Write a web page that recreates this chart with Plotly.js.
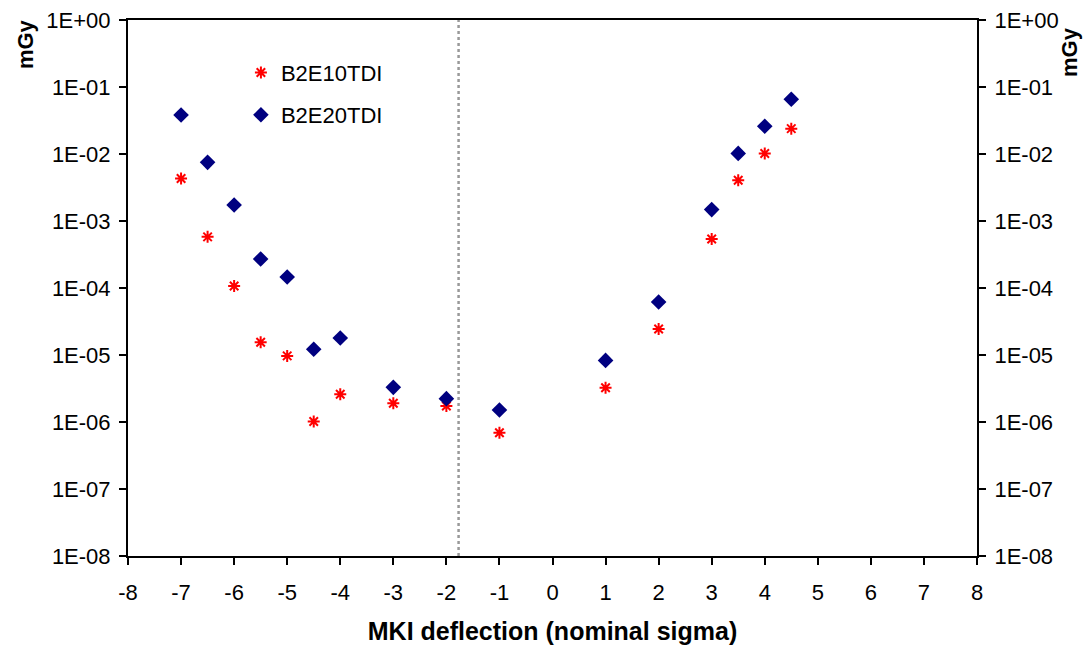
<!DOCTYPE html>
<html>
<head>
<meta charset="utf-8">
<script src="https://cdn.plot.ly/plotly-3.0.1.min.js"></script>
<style>html,body{margin:0;padding:0;background:#fff;}#chart{width:1083px;height:649px;}</style>
</head>
<body>
<div id="chart"></div>
<script>
// Data
const xValues = [-7, -6.5, -6, -5.5, -5, -4.5, -4, -3, -2, -1, 1, 2, 3, 3.5, 4, 4.5];
const b2e10tdi = [4.3e-3, 5.8e-4, 1.07e-4, 1.55e-5, 9.7e-6, 1.02e-6, 2.6e-6, 1.9e-6, 1.73e-6, 6.9e-7, 3.25e-6, 2.44e-5, 5.4e-4, 4.05e-3, 1.02e-2, 2.39e-2];
const b2e20tdi = [3.82e-2, 7.5e-3, 1.73e-3, 2.71e-4, 1.46e-4, 1.22e-5, 1.79e-5, 3.29e-6, 2.23e-6, 1.51e-6, 8.3e-6, 6.18e-5, 1.48e-3, 1.02e-2, 2.59e-2, 6.55e-2];
const seriesNames = ["B2E10TDI", "B2E20TDI"];
const yTickVals = [1, 1e-1, 1e-2, 1e-3, 1e-4, 1e-5, 1e-6, 1e-7, 1e-8];
const yTickText = ["1E+00", "1E-01", "1E-02", "1E-03", "1E-04", "1E-05", "1E-06", "1E-07", "1E-08"];
const xTickVals = [-8, -7, -6, -5, -4, -3, -2, -1, 0, 1, 2, 3, 4, 5, 6, 7, 8];
const xTickText = ["-8", "-7", "-6", "-5", "-4", "-3", "-2", "-1", "0", "1", "2", "3", "4", "5", "6", "7", "8"];
const markerLineX = -1.77;
const xTitle = "MKI deflection (nominal sigma)";
const yTitle = "mGy";

const FONT = "Liberation Sans, Arial, sans-serif";

const traces = [
  {
    x: xValues, y: b2e10tdi, name: seriesNames[0], type: "scatter", mode: "markers",
    marker: {symbol: "asterisk-open", size: 10, color: "#ff0000", line: {color: "#ff0000", width: 2}},
    legend: "legend"
  },
  {
    x: xValues, y: b2e20tdi, name: seriesNames[1], type: "scatter", mode: "markers",
    marker: {symbol: "diamond", size: 12, color: "#000080"},
    legend: "legend2"
  },
  {
    x: xValues, y: b2e20tdi, yaxis: "y2", type: "scatter", mode: "markers",
    marker: {opacity: 0}, showlegend: false, hoverinfo: "skip"
  }
];

const axisCommon = {
  type: "log",
  range: [-8, 0],
  tickvals: yTickVals,
  ticktext: yTickText,
  ticks: "outside",
  ticklen: 7,
  tickwidth: 2,
  tickcolor: "#000",
  ticklabelstandoff: 4,
  showline: true,
  linecolor: "#000",
  linewidth: 2,
  showgrid: false,
  zeroline: false,
  tickfont: {family: FONT, size: 22, color: "#000"}
};

const layout = {
  width: 1083, height: 649,
  margin: {l: 128, r: 106, t: 20, b: 93},
  paper_bgcolor: "#fff", plot_bgcolor: "#fff",
  font: {family: FONT, color: "#000"},
  xaxis: {
    range: [-8, 8],
    tickvals: xTickVals,
    ticktext: xTickText,
    ticks: "outside", ticklen: 7, tickwidth: 2, tickcolor: "#000",
    ticklabelstandoff: 9,
    showline: true, linecolor: "#000", linewidth: 2, mirror: true,
    showgrid: false, zeroline: false,
    tickfont: {family: FONT, size: 22, color: "#000"},
    title: {text: "<b>" + xTitle + "</b>", font: {family: FONT, size: 25, color: "#000"}, standoff: 18}
  },
  yaxis: Object.assign({}, axisCommon),
  yaxis2: Object.assign({}, axisCommon, {overlaying: "y", side: "right"}),
  legend: {
    x: 0.133, y: 0.941, xanchor: "left", yanchor: "top",
    bgcolor: "rgba(0,0,0,0)", font: {family: FONT, size: 22, color: "#000"}
  },
  legend2: {
    x: 0.133, y: 0.862, xanchor: "left", yanchor: "top",
    bgcolor: "rgba(0,0,0,0)", font: {family: FONT, size: 22, color: "#000"}
  },
  shapes: [{
    type: "line", xref: "x", yref: "paper",
    x0: markerLineX, x1: markerLineX, y0: 0, y1: 1,
    line: {color: "#999999", width: 2.5, dash: "dot"}
  }],
  annotations: [
    {text: "<b>" + yTitle + "</b>", xref: "paper", yref: "paper", x: -0.12, y: 1.0,
     xanchor: "center", yanchor: "middle", textangle: -90, showarrow: false,
     xshift: -1, yshift: -24, font: {family: FONT, size: 22, color: "#000"}},
    {text: "<b>" + yTitle + "</b>", xref: "paper", yref: "paper", x: 1.0, y: 1.0,
     xanchor: "center", yanchor: "middle", textangle: -90, showarrow: false,
     xshift: 92, yshift: -32, font: {family: FONT, size: 22, color: "#000"}}
  ],
  showlegend: true
};

Plotly.newPlot("chart", traces, layout, {staticPlot: true, displayModeBar: false});
</script>
</body>
</html>
